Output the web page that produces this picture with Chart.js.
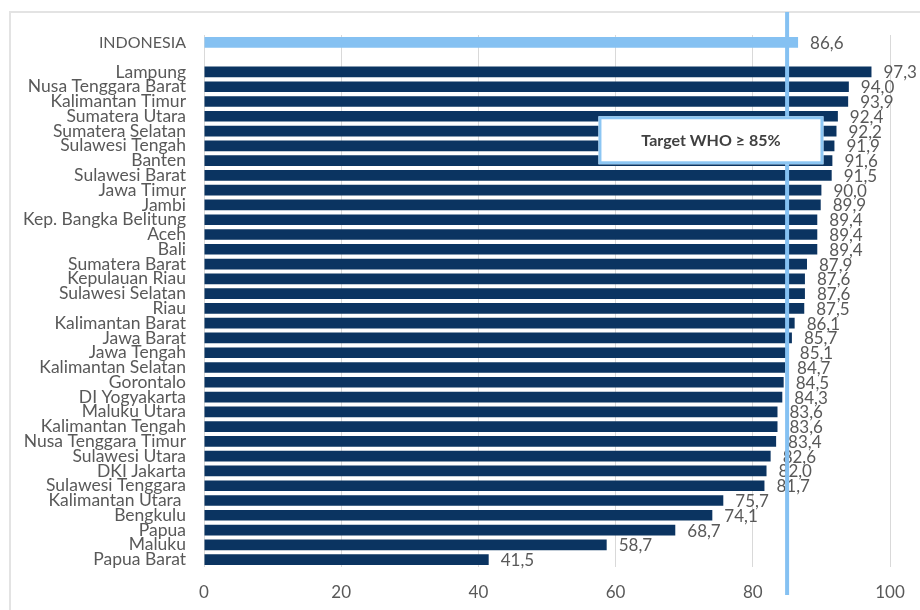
<!DOCTYPE html>
<html>
<head>
<meta charset="utf-8">
<script src="https://cdn.jsdelivr.net/npm/chart.js@4.4.0/dist/chart.umd.min.js"></script>
<style>
    html, body { margin: 0; padding: 0; background: #fff; }
    #wrap { width: 920px; height: 610px; }
</style>
</head>
<body>
<div id="wrap"><canvas id="whoChart" width="920" height="610"></canvas></div>
<script>
// data
var provinsi = ["INDONESIA", "",
    "Lampung", "Nusa Tenggara Barat", "Kalimantan Timur", "Sumatera Utara", "Sumatera Selatan",
    "Sulawesi Tengah", "Banten", "Sulawesi Barat", "Jawa Timur", "Jambi",
    "Kep. Bangka Belitung", "Aceh", "Bali", "Sumatera Barat", "Kepulauan Riau",
    "Sulawesi Selatan", "Riau", "Kalimantan Barat", "Jawa Barat", "Jawa Tengah",
    "Kalimantan Selatan", "Gorontalo", "DI Yogyakarta", "Maluku Utara", "Kalimantan Tengah",
    "Nusa Tenggara Timur", "Sulawesi Utara", "DKI Jakarta", "Sulawesi Tenggara", "Kalimantan Utara ",
    "Bengkulu", "Papua", "Maluku", "Papua Barat"];
var cakupan = [86.6, null,
    97.3, 94.0, 93.9, 92.4, 92.2,
    91.9, 91.6, 91.5, 90.0, 89.9,
    89.4, 89.4, 89.4, 87.9, 87.6,
    87.6, 87.5, 86.1, 85.7, 85.1,
    84.7, 84.5, 84.3, 83.6, 83.6,
    83.4, 82.6, 82.0, 81.7, 75.7,
    74.1, 68.7, 58.7, 41.5];
var targetWho = 85;
var targetText = "Target WHO \u2265 85%";
var xMin = 0, xMax = 100, xStep = 20;

var FONT = "Lato, 'Open Sans', sans-serif";
var GREY = "#595959";

var barColors = cakupan.map(function (v, i) { return i === 0 ? "#85c1f2" : "#0b3461"; });

function fmt(v) {
    return v.toFixed(1).replace(".", ",");
}

var frameLines = {
    id: "frameLines",
    beforeDraw: function (chart) {
        var ctx = chart.ctx;
        ctx.save();
        ctx.strokeStyle = "#e3e3e3";
        ctx.lineWidth = 2;
        ctx.beginPath();
        ctx.moveTo(10, chart.height);
        ctx.lineTo(10, 12);
        ctx.lineTo(chart.width, 12);
        ctx.stroke();
        ctx.restore();
    }
};

var valueLabels = {
    id: "valueLabels",
    afterDatasetsDraw: function (chart) {
        var ctx = chart.ctx;
        var meta = chart.getDatasetMeta(0);
        ctx.save();
        ctx.font = "17px " + FONT;
        ctx.fillStyle = GREY;
        ctx.textAlign = "left";
        ctx.textBaseline = "middle";
        meta.data.forEach(function (bar, i) {
            var v = cakupan[i];
            if (v === null) return;
            ctx.fillText(fmt(v), bar.x + 12, bar.y + 1);
        });

        // target line
        var xs = chart.scales.x, ys = chart.scales.y, area = chart.chartArea;
        var lx = xs.getPixelForValue(targetWho);
        ctx.strokeStyle = "#85c1f2";
        ctx.lineWidth = 4;
        ctx.beginPath();
        ctx.moveTo(lx, 12);
        ctx.lineTo(lx, area.bottom + 28);
        ctx.stroke();

        // target box
        var bx1 = xs.getPixelForValue(57.5), bx2 = xs.getPixelForValue(90.3);
        var by1 = ys.getPixelForValue(5), by2 = by1 + 48;
        ctx.fillStyle = "#fff";
        ctx.fillRect(bx1, by1, bx2 - bx1, by2 - by1);
        ctx.strokeStyle = "#8cc6f3";
        ctx.lineWidth = 3;
        ctx.strokeRect(bx1 + 1.5, by1 + 1.5, bx2 - bx1 - 3, by2 - by1 - 3);
        ctx.fillStyle = "#404040";
        ctx.font = "bold 16px " + FONT;
        ctx.textAlign = "center";
        ctx.fillText(targetText, (bx1 + bx2) / 2, (by1 + by2) / 2 + 1);
        ctx.restore();
    }
};

new Chart(document.getElementById("whoChart"), {
    type: "bar",
    data: {
        labels: provinsi,
        datasets: [{
            data: cakupan,
            backgroundColor: barColors,
            barPercentage: 0.72,
            categoryPercentage: 1
        }]
    },
    options: {
        indexAxis: "y",
        responsive: false,
        animation: false,
        layout: { padding: { top: 35, right: 30, left: 0, bottom: 0 } },
        plugins: {
            legend: { display: false },
            tooltip: { enabled: false }
        },
        scales: {
            x: {
                min: xMin,
                max: xMax,
                grid: { color: "#d9d9d9", drawTicks: false },
                border: { display: false },
                ticks: {
                    stepSize: xStep,
                    padding: 15,
                    color: GREY,
                    font: { family: FONT, size: 17 }
                },
                afterFit: function (scale) { scale.height = 43; }
            },
            y: {
                grid: { display: false, drawTicks: false },
                border: { display: false },
                ticks: {
                    autoSkip: false,
                    padding: 18,
                    color: GREY,
                    font: function (c) {
                        return c.index === 0 ? { family: FONT, size: 16 } : { family: FONT, size: 17.5 };
                    }
                },
                afterFit: function (scale) { scale.width = 204; }
            }
        }
    },
    plugins: [frameLines, valueLabels]
});
</script>
</body>
</html>
